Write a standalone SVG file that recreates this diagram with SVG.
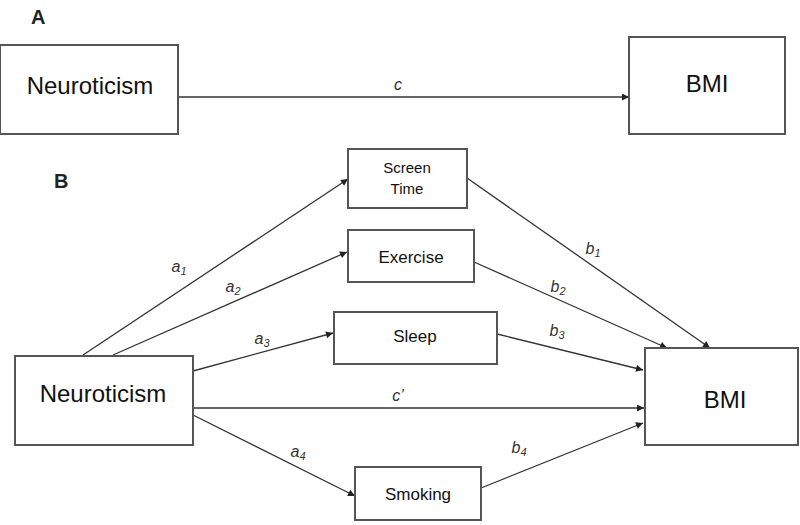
<svg xmlns="http://www.w3.org/2000/svg" width="800" height="525" viewBox="0 0 800 525">
<defs>
<marker id="arr" viewBox="0 0 10 10" refX="10" refY="5" markerWidth="8" markerHeight="7" markerUnits="userSpaceOnUse" orient="auto">
<path d="M0,0 L10,5 L0,10 z" fill="#222"/>
</marker>
</defs>
<style>
.box{fill:#fff;stroke:#555;stroke-width:2}
.t{font-family:"Liberation Sans",Arial,sans-serif;fill:#111;text-anchor:middle}
.big{font-size:24px}
.mid{font-size:17px}
.sm{font-size:15px}
.hd{font-family:"Liberation Sans",Arial,sans-serif;font-weight:bold;font-size:20px;fill:#222}
.lab{font-family:"Liberation Sans",Arial,sans-serif;font-style:italic;font-size:16px;fill:#333;text-anchor:middle}
.sub{font-size:11px}
.ln{stroke:#333;stroke-width:1.3;fill:none;marker-end:url(#arr)}
</style>
<rect width="800" height="525" fill="#fff"/>
<text class="hd" x="31" y="24">A</text>
<text class="hd" x="54" y="188">B</text>

<g id="connectors">
<line class="ln" x1="178" y1="97" x2="629" y2="97"/>
<line class="ln" x1="83" y1="355" x2="348" y2="179"/>
<line class="ln" x1="113" y1="355" x2="347" y2="252"/>
<line class="ln" x1="193" y1="371" x2="333" y2="333"/>
<line class="ln" x1="193" y1="408" x2="644" y2="408"/>
<line class="ln" x1="193" y1="415" x2="355" y2="496"/>
<line class="ln" x1="467" y1="178" x2="710" y2="348"/>
<line class="ln" x1="474" y1="262" x2="667" y2="348"/>
<line class="ln" x1="497" y1="334" x2="643" y2="370"/>
<line class="ln" x1="481" y1="488" x2="643" y2="423"/>
<text class="lab" x="398" y="90">c</text>
<text class="lab" x="179" y="272">a<tspan class="sub" dy="3">1</tspan></text>
<text class="lab" x="233" y="292">a<tspan class="sub" dy="3">2</tspan></text>
<text class="lab" x="262" y="344">a<tspan class="sub" dy="3">3</tspan></text>
<text class="lab" x="398" y="401">c’</text>
<text class="lab" x="298" y="457">a<tspan class="sub" dy="3">4</tspan></text>
<text class="lab" x="593" y="254">b<tspan class="sub" dy="3">1</tspan></text>
<text class="lab" x="558" y="292">b<tspan class="sub" dy="3">2</tspan></text>
<text class="lab" x="557" y="336">b<tspan class="sub" dy="3">3</tspan></text>
<text class="lab" x="519" y="453">b<tspan class="sub" dy="3">4</tspan></text>
</g>

<g id="neuroticismA">
<rect class="box" x="0" y="45" width="178" height="89"/>
<text class="t big" x="90" y="94">Neuroticism</text>
</g>
<g id="bmiA">
<rect class="box" x="629" y="37" width="156" height="97"/>
<text class="t big" x="707" y="92">BMI</text>
</g>
<g id="screentime">
<rect class="box" x="348" y="149" width="119" height="59"/>
<text class="t sm" x="407" y="173">Screen</text>
<text class="t sm" x="407" y="194">Time</text>
</g>
<g id="exercise">
<rect class="box" x="348" y="230" width="126" height="52"/>
<text class="t mid" x="411" y="263">Exercise</text>
</g>
<g id="sleep">
<rect class="box" x="334" y="312" width="163" height="52"/>
<text class="t mid" x="415" y="342">Sleep</text>
</g>
<g id="neuroticismB">
<rect class="box" x="15" y="356" width="178" height="89"/>
<text class="t big" x="103" y="402">Neuroticism</text>
</g>
<g id="bmiB">
<rect class="box" x="645" y="348" width="153" height="97"/>
<text class="t big" x="725" y="408">BMI</text>
</g>
<g id="smoking">
<rect class="box" x="355" y="467" width="126" height="53"/>
<text class="t mid" x="418" y="500">Smoking</text>
</g>
</svg>
